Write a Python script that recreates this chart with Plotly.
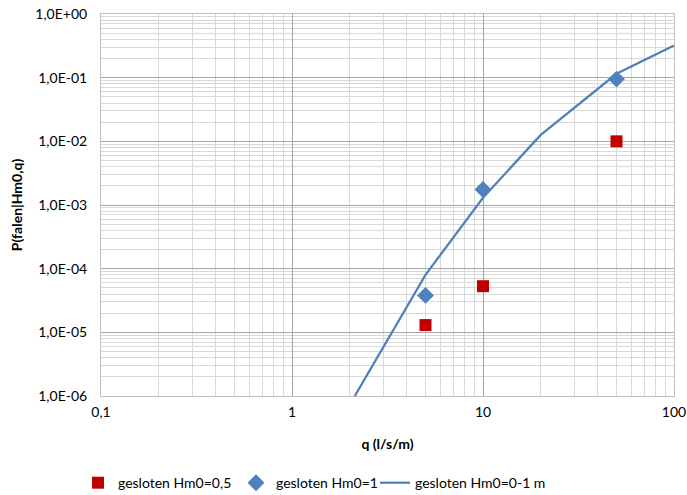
import plotly.graph_objects as go

# Data
q_line = [2, 5, 10, 20, 50, 100]
p_line = [7.2e-7, 8.0e-5, 1.3e-3, 1.25e-2, 0.115, 0.32]

q_pts = [5, 10, 50]
p_hm05 = [1.3e-5, 5.3e-5, 1.0e-2]
p_hm1 = [3.8e-5, 1.75e-3, 0.095]

y_tickvals = [1e-6, 1e-5, 1e-4, 1e-3, 1e-2, 1e-1, 1]
y_ticktext = ["1,0E-06", "1,0E-05", "1,0E-04", "1,0E-03", "1,0E-02", "1,0E-01", "1,0E+00"]
x_tickvals = [0.1, 1, 10, 100]
x_ticktext = ["0,1", "1", "10", "100"]

FONT = "Lato, Open Sans, sans-serif"

fig = go.Figure()
fig.add_trace(go.Scatter(x=q_pts, y=p_hm05, mode="markers", name="gesloten Hm0=0,5",
                         marker=dict(symbol="square", size=12, color="#C00000"), legend="legend"))
fig.add_trace(go.Scatter(x=q_pts, y=p_hm1, mode="markers", name="gesloten Hm0=1",
                         marker=dict(symbol="diamond", size=13, color="#4F81BD"), legend="legend2"))
fig.add_trace(go.Scatter(x=q_line, y=p_line, mode="lines", name="gesloten Hm0=0-1 m",
                         line=dict(color="#4F81BD", width=2.25), legend="legend3"))

fig.update_xaxes(type="log", range=[-1, 2], tickvals=x_tickvals, ticktext=x_ticktext,
                 showgrid=True, gridcolor="#A6A6A6", gridwidth=1,
                 minor=dict(dtick="D1", showgrid=True, gridcolor="#D9D9D9", ticks=""),
                 showline=True, linecolor="#BFBFBF", mirror=True, ticks="",
                 zeroline=False, automargin=False, ticklabelstandoff=3,
                 ticklabeloverflow="allow",
                 title=dict(text="<b>q (l/s/m)</b>", font=dict(size=14, color="#000"), standoff=20),
                 tickfont=dict(size=14, color="#000"))
fig.update_yaxes(type="log", range=[-6, 0], tickvals=y_tickvals, ticktext=y_ticktext,
                 showgrid=True, gridcolor="#A6A6A6", gridwidth=1,
                 minor=dict(dtick="D1", showgrid=True, gridcolor="#D9D9D9", ticks=""),
                 showline=True, linecolor="#BFBFBF", mirror=True, ticks="",
                 zeroline=False, automargin=False, ticklabelstandoff=10,
                 ticklabeloverflow="allow",
                 title=dict(text="<b>P(falen|Hm0,q)</b>", font=dict(size=14, color="#000"), standoff=9),
                 tickfont=dict(size=14, color="#000"))

leg_common = dict(orientation="h", yanchor="middle", y=-0.228, xanchor="left",
                  font=dict(size=14, color="#000"), bgcolor="rgba(0,0,0,0)")
fig.update_layout(
    width=687, height=495,
    margin=dict(l=101, r=13, t=14, b=99, autoexpand=False),
    paper_bgcolor="white", plot_bgcolor="white",
    font=dict(family=FONT, size=14, color="#000"),
    showlegend=True,
    legend=dict(x=(78 - 101) / 573, **leg_common),
    legend2=dict(x=(236 - 101) / 573, **leg_common),
    legend3=dict(x=(375 - 101) / 573, **leg_common),
)

# remove the browser's default page margin so the figure fills the window exactly
fig.write_html("out.html",
               config={"displayModeBar": False},
               post_script="document.body.style.margin='0';document.body.style.overflow='hidden';")
